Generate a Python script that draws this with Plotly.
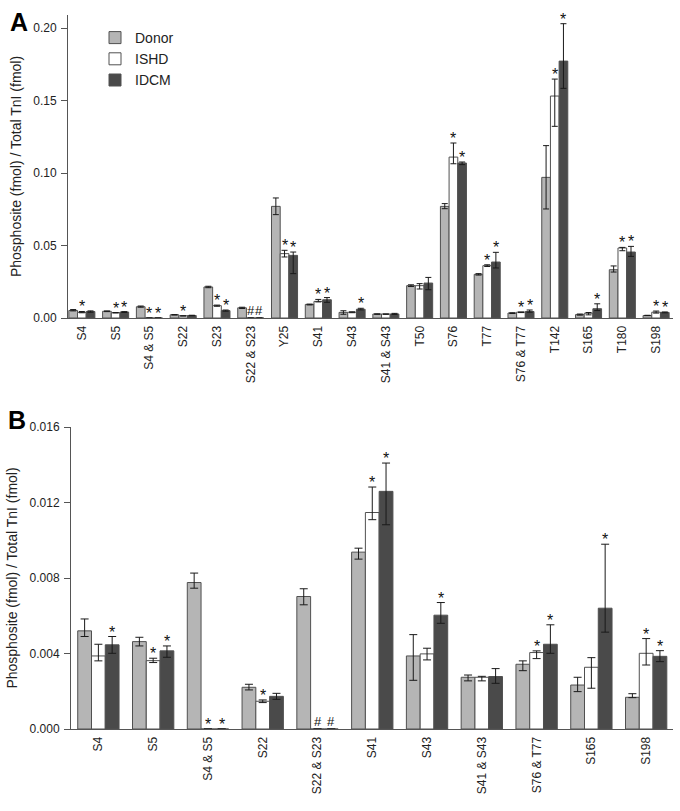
import plotly.graph_objects as go

# ---------------- data ----------------
categories_top = ["S4", "S5", "S4 & S5", "S22", "S23", "S22 & S23", "Y25", "S41", "S43",
                  "S41 & S43", "T50", "S76", "T77", "S76 & T77", "T142", "S165", "T180", "S198"]

donor = [0.0052, 0.00463, 0.00776, 0.00221, 0.0214, 0.00702, 0.077, 0.00937, 0.00387,
         0.00274, 0.0223, 0.077, 0.0301, 0.00343, 0.097, 0.00233, 0.0333, 0.00168]
donor_up = [0.00063, 0.00023, 0.0005, 0.00016, 0.0005, 0.00041, 0.0058, 0.00021, 0.00113,
            0.00012, 0.0006, 0.0019, 0.0005, 0.00018, 0.0219, 0.00041, 0.0026, 0.00019]
donor_dn = [0.0003, 0.00023, 0.0003, 0.00014, 0.0005, 0.00044, 0.0057, 0.00037, 0.00129,
            0.00019, 0.0006, 0.0016, 0.0005, 0.00034, 0.0218, 0.00035, 0.0016, 0.00002]

ishd = [0.00387, 0.00362, 0.0, 0.00147, 0.0085, 0.0, 0.0444, 0.01147, 0.00398,
        0.00274, 0.0223, 0.111, 0.0361, 0.00405, 0.1531, 0.00327, 0.0483, 0.00401]
ishd_up = [0.00062, 0.00013, 0.0, 0.00007, 0.0004, 0.0, 0.0023, 0.00135, 0.0003,
           0.00005, 0.0014, 0.0097, 0.0006, 0.00009, 0.0117, 0.00051, 0.0004, 0.00078]
ishd_dn = [0.00026, 0.0001, 0.0, 0.00007, 0.0004, 0.0, 0.0023, 0.00038, 0.00032,
           0.00019, 0.0023, 0.0046, 0.0006, 0.00032, 0.0209, 0.00111, 0.0019, 0.00062]

idcm = [0.00446, 0.00414, 0.0, 0.00173, 0.0051, 0.0, 0.0432, 0.01259, 0.00603,
        0.00278, 0.0241, 0.1069, 0.0386, 0.00449, 0.1772, 0.0064, 0.0455, 0.00385]
idcm_up = [0.00044, 0.00026, 0.0, 0.00016, 0.0004, 0.0, 0.0023, 0.0015, 0.00067,
           0.00042, 0.0039, 0.0007, 0.0067, 0.00103, 0.0258, 0.00339, 0.0039, 0.0003]
idcm_dn = [0.00045, 0.00034, 0.0, 0.00016, 0.0004, 0.0, 0.0126, 0.00177, 0.00043,
           0.00036, 0.0046, 0.0011, 0.0041, 0.00048, 0.0188, 0.00127, 0.003, 0.00028]

sig_top_ishd = ["*", "*", "*", "*", "*", "#", "*", "*", "", "", "", "*", "*", "*", "*", "", "*", "*"]
sig_top_idcm = ["", "*", "*", "", "*", "#", "*", "*", "*", "", "", "*", "*", "*", "*", "*", "*", "*"]

categories_bottom = ["S4", "S5", "S4 & S5", "S22", "S22 & S23", "S41", "S43", "S41 & S43",
                     "S76 & T77", "S165", "S198"]
sig_bottom_ishd = ["", "*", "*", "*", "#", "*", "", "", "*", "", "*"]
sig_bottom_idcm = ["*", "*", "*", "", "#", "*", "*", "", "*", "*", "*"]

top_tickvals = [0.0, 0.05, 0.10, 0.15, 0.20]
top_ticktext = ["0.00", "0.05", "0.10", "0.15", "0.20"]
bottom_tickvals = [0.0, 0.004, 0.008, 0.012, 0.016]
bottom_ticktext = ["0.000", "0.004", "0.008", "0.012", "0.016"]

series_names = ["Donor", "ISHD", "IDCM"]
series_colors = ["#b5b5b5", "#ffffff", "#4a4a4a"]

# ---------------- figure ----------------
W, H = 680, 811
FONT = "Arial, Liberation Sans, sans-serif"


def fx(p):
    return p / W


def fy(p):
    return 1 - p / H


fig = go.Figure()

top_series = [(donor, donor_up, donor_dn), (ishd, ishd_up, ishd_dn), (idcm, idcm_up, idcm_dn)]
bidx = [categories_top.index(c) for c in categories_bottom]
bottom_series = [([v[i] for i in bidx], [u[i] for i in bidx], [d[i] for i in bidx])
                 for (v, u, d) in top_series]

panels = [
    dict(cats=categories_top, series=top_series, sig=[None, sig_top_ishd, sig_top_idcm],
         bw=0.257, cap=3, xa="x", ya="y", legend=True),
    dict(cats=categories_bottom, series=bottom_series, sig=[None, sig_bottom_ishd, sig_bottom_idcm],
         bw=0.2514, cap=4, xa="x2", ya="y2", legend=False),
]

annotations = []
for p in panels:
    n = len(p["cats"])
    xs = list(range(n))
    bw = p["bw"]
    for j, (vals, up, dn) in enumerate(p["series"]):
        fig.add_trace(go.Bar(
            x=xs, y=vals, width=bw, offset=(j - 1.5) * bw,
            name=series_names[j], showlegend=p["legend"], legendgroup=series_names[j],
            marker=dict(color=series_colors[j], line=dict(color="#505050", width=1)),
            error_y=dict(type="data", symmetric=False, array=up, arrayminus=dn,
                         color="#1a1a1a", thickness=1, width=p["cap"]),
            xaxis=p["xa"], yaxis=p["ya"], hoverinfo="skip",
        ))
    for j in (1, 2):
        vals, up, dn = p["series"][j]
        marks = p["sig"][j]
        for i in range(n):
            if marks[i]:
                star = marks[i] == "*"
                annotations.append(dict(
                    x=i + (j - 1) * bw, y=vals[i] + up[i], xref=p["xa"], yref=p["ya"],
                    text=marks[i], showarrow=False, xanchor="center", yanchor="bottom",
                    yshift=-5 if star else -1, borderpad=0,
                    font=dict(size=16 if star else 13, color="#111", family=FONT),
                ))

axis_common = dict(showgrid=False, zeroline=False, showline=True, linecolor="#555", linewidth=1,
                   automargin=False)
ytitle = "Phosphosite (fmol) / Total TnI (fmol)"

annotations += [
    dict(text="<b>A</b>", x=fx(8), y=fy(6), xref="paper", yref="paper",
         xanchor="left", yanchor="top", showarrow=False, font=dict(size=25, color="#000")),
    dict(text="<b>B</b>", x=fx(6), y=fy(404), xref="paper", yref="paper",
         xanchor="left", yanchor="top", showarrow=False, font=dict(size=25, color="#000")),
]

fig.update_layout(
    template="none",
    width=W, height=H, margin=dict(l=0, r=0, t=0, b=0, pad=0),
    paper_bgcolor="white", plot_bgcolor="white",
    font=dict(family=FONT, color="#222", size=12),
    barmode="overlay",
    xaxis=dict(domain=[fx(68), fx(673)], range=[-0.41, 17.5], anchor="y",
               tickmode="array", tickvals=list(range(len(categories_top))), ticktext=categories_top,
               tickangle=-90, ticks="", tickfont=dict(size=12), ticklabelstandoff=2, **axis_common),
    yaxis=dict(domain=[fy(318), fy(15)], range=[0, 0.209], anchor="x",
               tickmode="array", tickvals=top_tickvals, ticktext=top_ticktext,
               ticks="outside", ticklen=6, tickcolor="#555", tickfont=dict(size=12),
               ticklabelstandoff=2,
               title=dict(text=ytitle, font=dict(size=14), standoff=8), **axis_common),
    xaxis2=dict(domain=[fx(71), fx(673)], range=[-0.5, 10.49], anchor="y2",
                tickmode="array", tickvals=list(range(len(categories_bottom))), ticktext=categories_bottom,
                tickangle=-90, ticks="", tickfont=dict(size=12), ticklabelstandoff=2, **axis_common),
    yaxis2=dict(domain=[fy(729), fy(427)], range=[0, 0.016], anchor="x2",
                tickmode="array", tickvals=bottom_tickvals, ticktext=bottom_ticktext,
                ticks="outside", ticklen=6, tickcolor="#555", tickfont=dict(size=12),
                ticklabelstandoff=2,
                title=dict(text=ytitle, font=dict(size=14), standoff=8), **axis_common),
    legend=dict(x=fx(95), y=fy(22), xanchor="left", yanchor="top", font=dict(size=14),
                bgcolor="rgba(0,0,0,0)", tracegroupgap=0, itemwidth=30),
    annotations=annotations,
)

fig.write_html("out.html", config={"displayModeBar": False},
               post_script="document.body.style.margin='0px';document.body.style.padding='0px';")
